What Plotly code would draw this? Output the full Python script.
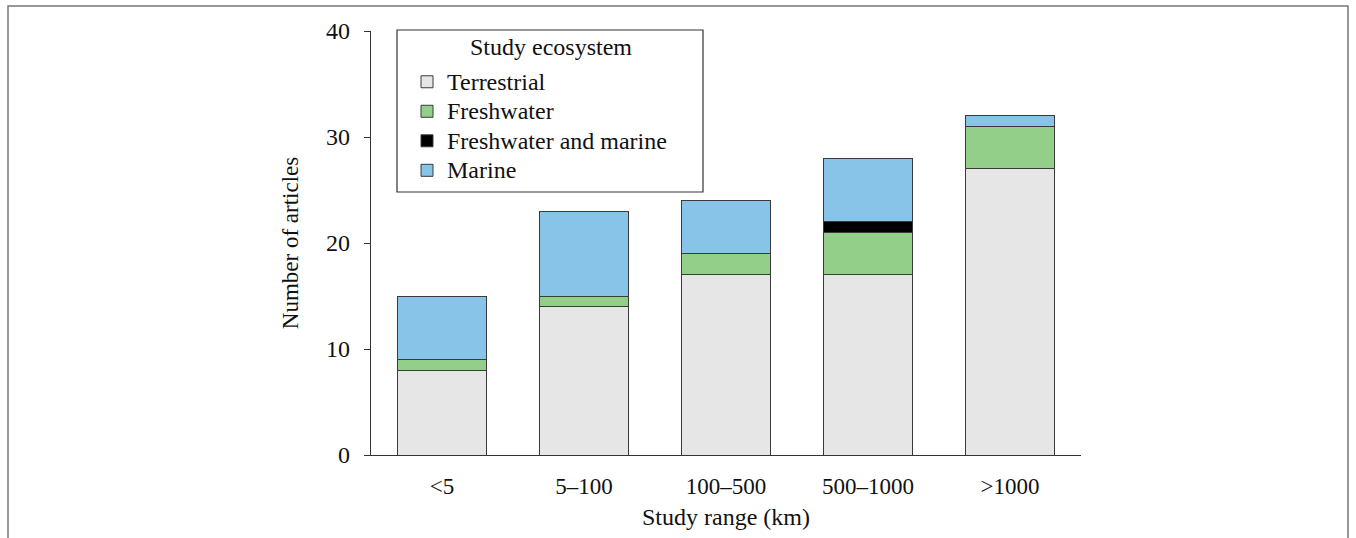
import plotly.graph_objects as go

categories = ["<5", "5–100", "100–500", "500–1000", ">1000"]
terrestrial = [8, 14, 17, 17, 27]
freshwater = [1, 1, 2, 4, 4]
fresh_marine = [None, None, None, 1, None]
marine = [6, 8, 5, 6, 1]

series = [
    ("Terrestrial", terrestrial, "#E6E6E6"),
    ("Freshwater", freshwater, "#94CF89"),
    ("Freshwater and marine", fresh_marine, "#000000"),
    ("Marine", marine, "#88C3E8"),
]

FONT = "Liberation Serif, Times New Roman, serif"

fig = go.Figure()
for name, vals, col in series:
    fig.add_trace(go.Bar(
        x=categories, y=vals,
        name='<span style="font-size:24px">' + name + '</span>',
        marker=dict(color=col, line=dict(color="#3a3a3a", width=1)),
    ))

# plot area in px: x 371..1081, y 31..455
def px_x(p):
    return (p - 371) / 710

def px_y(p):
    return (455 - p) / 424

fig.update_layout(
    barmode="stack",
    bargap=0.373,
    width=1356, height=538,
    margin=dict(l=371, r=275, t=31, b=83, autoexpand=False),
    paper_bgcolor="white", plot_bgcolor="white",
    font=dict(family=FONT, size=23, color="#111111"),
    showlegend=True,
    legend=dict(
        x=px_x(407), y=px_y(62), xanchor="left", yanchor="top",
        traceorder="normal", tracegroupgap=0,
        font=dict(family=FONT, size=20.4, color="#111111"),
        bgcolor="rgba(0,0,0,0)", borderwidth=0,
    ),
    xaxis=dict(
        showline=True, linecolor="#333333", linewidth=1.2,
        ticks="", showgrid=False, range=[-0.5, 4.5],
        tickfont=dict(size=23), ticklabelstandoff=10,
        title=dict(text="Study range (km)", font=dict(size=24), standoff=10),
    ),
    yaxis=dict(
        range=[0, 40], tickvals=[0, 10, 20, 30, 40],
        showline=True, linecolor="#333333", linewidth=1.2,
        ticks="outside", ticklen=6, tickcolor="#333333",
        showgrid=False, zeroline=False,
        tickfont=dict(size=24), ticklabelstandoff=9,
        title=dict(text="Number of articles", font=dict(size=23), standoff=21),
    ),
    shapes=[
        dict(type="rect", xref="paper", yref="paper",
             x0=px_x(397), x1=px_x(703), y0=px_y(192), y1=px_y(30),
             line=dict(color="#333333", width=1.2), fillcolor="rgba(0,0,0,0)"),
        dict(type="rect", xref="paper", yref="paper",
             x0=px_x(8), x1=px_x(1348), y0=px_y(560), y1=px_y(6),
             line=dict(color="#777777", width=1.5), fillcolor="rgba(0,0,0,0)"),
    ],
    annotations=[
        dict(text="Study ecosystem", xref="paper", yref="paper",
             x=px_x(551), y=px_y(47), xanchor="center", yanchor="middle",
             showarrow=False,
             font=dict(family=FONT, size=24, color="#111111")),
    ],
)

fig.write_html("out.html", config={"displayModeBar": False},
               post_script="document.body.style.margin='0px';")
